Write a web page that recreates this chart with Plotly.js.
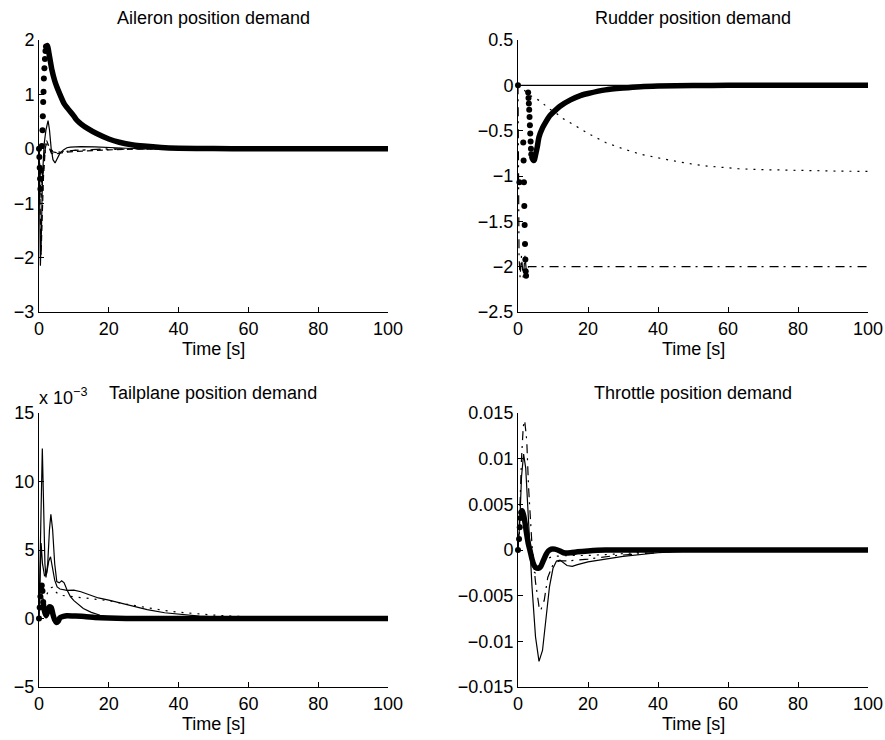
<!DOCTYPE html>
<html>
<head>
<meta charset="utf-8">
<script src="https://cdn.plot.ly/plotly-3.0.1.min.js"></script>
<style>html,body{margin:0;padding:0;background:#fff}#chart{width:885px;height:740px}</style>
</head>
<body>
<div id="chart"></div>
<script>
// ---------- Titles / labels ----------
const panelTitles = ["Aileron position demand", "Rudder position demand", "Tailplane position demand", "Throttle position demand"];
const xLabel = "Time [s]";
const xTickVals = [0, 20, 40, 60, 80, 100];
const xTickText = ["0", "20", "40", "60", "80", "100"];

// ---------- Aileron ----------
const ail_solid_t = [0,0.2,0.4,0.7,1.0,1.5,2.0,2.6,3.0,3.5,4.0,4.6,5.2,6,7,8,9,12,16,20,25,30,100];
const ail_solid_v = [0,-1.0,-2.15,-1.5,-0.5,0.1,0.35,0.52,0.35,0.0,-0.2,-0.26,-0.18,-0.08,-0.02,0.02,0.03,0.04,0.035,0.02,0.01,0,0];
const ail_dash_t = [0,0.3,0.6,0.9,1.3,1.8,2.2,2.8,3.5,4.2,5,6,8,10,15,20,25,30,100];
const ail_dash_v = [0,-1.2,-1.95,-1.3,-0.5,0.0,0.15,0.05,-0.08,-0.1,-0.09,-0.08,-0.06,-0.05,-0.03,-0.02,-0.01,0,0];
const ail_dot_t = [0,0.4,0.8,1.2,1.7,2.2,3,4,6,10,15,20,30,100];
const ail_dot_v = [0,-0.45,-0.7,-0.45,-0.1,0.08,0.02,-0.05,-0.06,-0.03,-0.02,-0.01,0,0];
const ail_dashdot_t = [0,0.3,0.6,1.0,1.5,2.0,2.6,3.5,5,7,10,20,100];
const ail_dashdot_v = [0,-0.55,-0.9,-0.6,-0.15,0.1,0.05,-0.05,-0.07,-0.05,-0.03,0,0];
const ail_mark_t = [0,0.1,0.2,0.3,0.4,0.6,0.8,1.0,1.1,1.2,1.3,1.4,1.55,1.7,1.85,2.0];
const ail_mark_v = [0,-0.15,-0.35,-0.55,-0.74,-0.4,0.05,0.34,0.6,0.86,1.05,1.29,1.48,1.65,1.8,1.88];
const ail_thick_t = [2.0,2.4,3,3.7,4.5,5.1,6,7.2,8.5,10,10.8,12,14,16.5,20,23,27,30,35,40,50,60,100];
const ail_thick_v = [1.85,1.9,1.7,1.45,1.25,1.14,1.0,0.83,0.72,0.6,0.53,0.46,0.37,0.28,0.18,0.12,0.07,0.05,0.025,0.012,0.004,0.001,0];

// ---------- Rudder ----------
const rud_solid_t = [0,100];
const rud_solid_v = [0,0];
const rud_dot_t = [0,1.4,3,6.2,9,11,13,15.7,18,20.5,25,30,35,40,44,50,54,60,63,70,80,90,100];
const rud_dot_v = [0,-0.04,-0.1,-0.17,-0.26,-0.31,-0.37,-0.43,-0.49,-0.54,-0.63,-0.7,-0.76,-0.8,-0.83,-0.87,-0.89,-0.91,-0.92,-0.93,-0.94,-0.945,-0.95];
const rud_dashdot_t = [0,0.3,0.6,1.0,1.5,2.0,2.5,3.0,100];
const rud_dashdot_v = [0,-1.9,-2.12,-1.88,-2.12,-1.88,-2.1,-2,-2];
const rud_mark_t = [0,0.4,1.5,1.6,1.7,1.8,1.9,2.0,2.1,2.2,2.3,2.9,3.0,3.1,3.2,3.3,3.4,3.5,3.6,3.7,3.8];
const rud_mark_v = [0,-1.07,-0.63,-0.83,-1.07,-1.33,-1.54,-1.75,-1.92,-2.05,-2.1,-0.08,-0.14,-0.2,-0.27,-0.35,-0.44,-0.53,-0.62,-0.7,-0.76];
const rud_thick_t = [3.9,4.1,4.4,4.7,5.0,5.5,6,7,8,9,10,12,15,18,20,25,30,35,40,50,60,100];
const rud_thick_v = [-0.78,-0.81,-0.83,-0.82,-0.77,-0.68,-0.57,-0.47,-0.4,-0.34,-0.3,-0.23,-0.16,-0.11,-0.09,-0.05,-0.03,-0.015,-0.008,-0.003,0,0];

// ---------- Tailplane (values in units of 1e-3) ----------
const tp_solid_t = [0,0.3,0.6,0.95,1.3,1.7,2.0,2.5,3.0,3.4,3.9,4.5,5.1,5.8,6.5,7.2,8,9,10,12.7,15,17.5,20.3,25,30,100];
const tp_solid_v = [0,3,8,12.4,8,4,3.0,4,6.5,7.6,6.5,4,2.7,2.6,2.75,2.6,2.1,1.6,1.3,0.73,0.45,0.24,0.07,0.02,0,0];
const tp_dashdot_t = [0,0.3,0.6,1.0,1.6,2.2,2.8,3.3,3.8,4.5,5.2,6,8,10,12,15,17,20,23,27,31,36,41,46,52,60,70,80,100];
const tp_dashdot_v = [0,3,5.5,4,3.1,3.3,4.2,4.5,3.8,2.8,2.3,2.15,2.05,2.07,1.95,1.65,1.5,1.34,1.15,0.88,0.65,0.42,0.28,0.17,0.1,0.05,0.02,0.01,0];
const tp_dot_t = [0,0.3,0.7,1.2,2,3,4,5,6,8,10,12,15,20,25,30,35,40,45,50,55,60,65,70,75,80,100];
const tp_dot_v = [0,2.5,2.0,1.4,1.6,2.2,2.3,1.9,1.7,1.65,1.6,1.55,1.45,1.3,1.05,0.82,0.62,0.46,0.34,0.25,0.18,0.13,0.09,0.06,0.04,0.02,0];
const tp_mark_t = [0,0.2,0.4,0.6,0.8,1.0,1.2];
const tp_mark_v = [0,0.8,1.6,2.2,2.4,2.0,1.2];
const tp_thick_t = [1.2,1.5,2.0,2.5,3.0,3.5,4.0,4.5,5.0,5.5,6,7,8,10,13,16,20,25,100];
const tp_thick_v = [1.2,0.6,0.2,0.5,0.85,0.8,0.3,-0.1,-0.3,-0.2,0.05,0.15,0.2,0.18,0.15,0.08,0.03,0,0];

// ---------- Throttle ----------
const tr_solid_t = [0,0.5,1.0,1.6,2.2,3,4,5,6,7,8,9,10,11,12,13,14,15.5,17,20,25,30,40,50,60,100];
const tr_solid_v = [0,0.003,0.008,0.0105,0.009,0.003,-0.004,-0.0095,-0.0122,-0.011,-0.0075,-0.004,-0.002,-0.0012,-0.0011,-0.0014,-0.0017,-0.0018,-0.0016,-0.0013,-0.001,-0.0007,-0.0003,-0.0001,0,0];
const tr_dashdot_t = [0,0.5,1.0,1.5,1.9,2.5,3,4,5,6,6.5,7.5,8.5,10,11,12,14,20,28,38,50,100];
const tr_dashdot_v = [0,0.004,0.01,0.0135,0.0142,0.012,0.007,0.0005,-0.0035,-0.0062,-0.0066,-0.0055,-0.003,-0.0016,-0.0013,-0.0012,-0.0012,-0.001,-0.0006,-0.0003,0,0];
const tr_dot_t = [0,0.5,1.0,1.5,2.5,3.5,4.5,5.3,6,7,8,10,15,20,25,30,40,50,100];
const tr_dot_v = [0,0.003,0.0048,0.0047,0.002,-0.001,-0.0024,-0.0026,-0.0022,-0.0014,-0.001,-0.0007,-0.0006,-0.0006,-0.0005,-0.0004,-0.0001,0,0];
const tr_mark_t = [0,0.3,0.5,0.7,0.9];
const tr_mark_v = [0,0.0012,0.0025,0.0035,0.0041];
const tr_thick_t = [0.9,1.2,1.6,2.0,2.5,3.0,3.4,4.0,4.5,5.0,5.8,6.5,7.2,8.0,8.7,9.5,10.5,12,13,15,17,20,25,100];
const tr_thick_v = [0.0041,0.0043,0.0038,0.003,0.0017,0.0006,0,-0.001,-0.0016,-0.0019,-0.002,-0.0018,-0.0012,-0.0005,-0.0001,0.0001,0.0001,-0.0001,-0.0003,-0.0003,-0.0002,-0.0001,0,0];

// ---------- Y tick labels ----------
const ail_yticks = [-3,-2,-1,0,1,2];
const ail_ytext = ["−3","−2","−1","0","1","2"];
const rud_yticks = [-2.5,-2,-1.5,-1,-0.5,0,0.5];
const rud_ytext = ["−2.5","−2","−1.5","−1","−0.5","0","0.5"];
const tp_yticks = [-5,0,5,10,15];
const tp_ytext = ["−5","0","5","10","15"];
const tr_yticks = [-0.015,-0.01,-0.005,0,0.005,0.01,0.015];
const tr_ytext = ["−0.015","−0.01","−0.005","0","0.005","0.01","0.015"];

// ---------- Styling ----------
const FONT = "Liberation Sans, Arial, Helvetica, sans-serif";
const DASH = {solid: "solid", dash: "6px,4px", dot: "2px,6px", dashdot: "9px,5px,2px,6px"};

function line(x, y, dash, ax) {
  return {x: x, y: y, mode: "lines", type: "scatter", xaxis: "x" + ax, yaxis: "y" + ax,
          line: {color: "#000", width: 1.2, dash: DASH[dash]}, hoverinfo: "skip", showlegend: false};
}
function thick(x, y, ax) {
  return {x: x, y: y, mode: "lines", type: "scatter", xaxis: "x" + ax, yaxis: "y" + ax,
          line: {color: "#000", width: 5.5, shape: "spline", smoothing: 0.6}, hoverinfo: "skip", showlegend: false};
}
function dots(x, y, ax) {
  return {x: x, y: y, mode: "markers", type: "scatter", xaxis: "x" + ax, yaxis: "y" + ax, cliponaxis: false,
          marker: {color: "#000", size: 6}, hoverinfo: "skip", showlegend: false};
}

const traces = [
  line(ail_dashdot_t, ail_dashdot_v, "dashdot", ""),
  line(ail_dot_t, ail_dot_v, "dot", ""),
  line(ail_dash_t, ail_dash_v, "dash", ""),
  line(ail_solid_t, ail_solid_v, "solid", ""),
  thick(ail_thick_t, ail_thick_v, ""),
  dots(ail_mark_t, ail_mark_v, ""),

  line(rud_solid_t, rud_solid_v, "solid", "2"),
  line(rud_dot_t, rud_dot_v, "dot", "2"),
  line(rud_dashdot_t, rud_dashdot_v, "dashdot", "2"),
  thick(rud_thick_t, rud_thick_v, "2"),
  dots(rud_mark_t, rud_mark_v, "2"),

  line(tp_dot_t, tp_dot_v, "dot", "3"),
  line(tp_dashdot_t, tp_dashdot_v, "solid", "3"),
  line(tp_solid_t, tp_solid_v, "solid", "3"),
  thick(tp_thick_t, tp_thick_v, "3"),
  dots(tp_mark_t, tp_mark_v, "3"),

  line(tr_dot_t, tr_dot_v, "dot", "4"),
  line(tr_dashdot_t, tr_dashdot_v, "dashdot", "4"),
  line(tr_solid_t, tr_solid_v, "solid", "4"),
  thick(tr_thick_t, tr_thick_v, "4"),
  dots(tr_mark_t, tr_mark_v, "4")
];

const W = 885, H = 740;
const colL = [39 / W, 388 / W], colR = [518 / W, 868 / W];
const rowT = [1 - 312 / H, 1 - 40 / H], rowB = [1 - 687 / H, 1 - 413 / H];

function xax(domain, anchor) {
  return {domain: domain, anchor: anchor, range: [0, 100], tickmode: "array", tickvals: xTickVals, ticktext: xTickText,
          showline: true, linecolor: "#000", linewidth: 1, ticks: "inside", ticklen: 5, tickcolor: "#000", tickwidth: 1,
          showgrid: false, zeroline: false, fixedrange: true, tickfont: {family: FONT, size: 18, color: "#000"}};
}
function yax(domain, anchor, range, vals, text) {
  return {domain: domain, anchor: anchor, range: range, tickmode: "array", tickvals: vals, ticktext: text,
          showline: true, linecolor: "#000", linewidth: 1, ticks: "inside", ticklen: 5, tickcolor: "#000", tickwidth: 1,
          showgrid: false, zeroline: false, fixedrange: true, tickfont: {family: FONT, size: 18, color: "#000"}};
}

function ann(text, px, py, xanchor) {
  return {text: text, xref: "paper", yref: "paper", x: px / W, y: 1 - py / H, xanchor: xanchor || "center", yanchor: "middle",
          showarrow: false, font: {family: FONT, size: 18, color: "#000"}};
}

const layout = {
  width: W, height: H, margin: {l: 0, r: 0, t: 0, b: 0}, paper_bgcolor: "#fff", plot_bgcolor: "#fff",
  showlegend: false,
  xaxis: xax(colL, "y"), yaxis: yax(rowT, "x", [-3, 2], ail_yticks, ail_ytext),
  xaxis2: xax(colR, "y2"), yaxis2: yax(rowT, "x2", [-2.5, 0.5], rud_yticks, rud_ytext),
  xaxis3: xax(colL, "y3"), yaxis3: yax(rowB, "x3", [-5, 15], tp_yticks, tp_ytext),
  xaxis4: xax(colR, "y4"), yaxis4: yax(rowB, "x4", [-0.015, 0.015], tr_yticks, tr_ytext),
  annotations: [
    ann(panelTitles[0], 213, 18), ann(panelTitles[1], 693, 18),
    ann(panelTitles[2], 213, 393), ann(panelTitles[3], 693, 393),
    ann(xLabel, 213, 349), ann(xLabel, 693, 349),
    ann(xLabel, 213, 724), ann(xLabel, 693, 724),
    ann("x 10<sup>−3</sup>", 37, 396, "left")
  ]
};

Plotly.newPlot("chart", traces, layout, {staticPlot: true, displayModeBar: false});
</script>
</body>
</html>
